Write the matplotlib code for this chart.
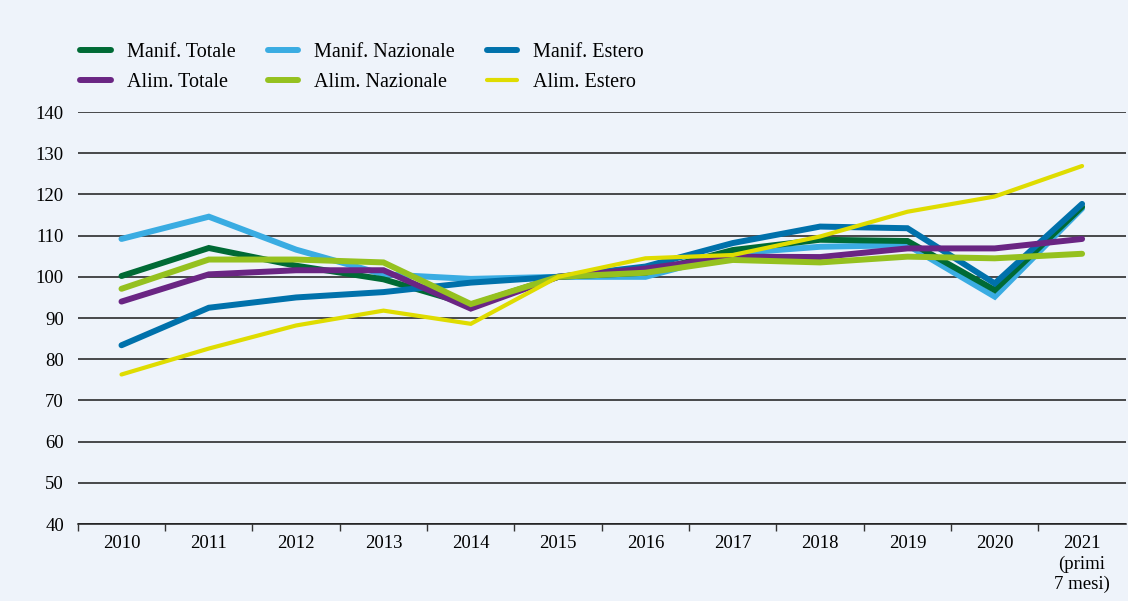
import matplotlib
matplotlib.use("Agg")
import matplotlib.pyplot as plt
import numpy as np

years = ["2010", "2011", "2012", "2013", "2014", "2015", "2016", "2017", "2018", "2019", "2020",
         "2021\n(primi\n7 mesi)"]

manif_nazionale = [109.2, 114.6, 106.6, 100.6, 99.5, 100.0, 100.0, 105.7, 107.3, 107.7, 95.2, 116.6]
manif_totale = [100.2, 107.0, 102.7, 99.4, 93.2, 100.0, 101.0, 106.5, 109.0, 108.7, 96.8, 117.0]
manif_estero = [83.4, 92.5, 95.0, 96.3, 98.6, 100.0, 102.5, 108.2, 112.2, 111.8, 98.4, 117.7]
alim_totale = [94.0, 100.6, 101.6, 101.6, 92.3, 100.0, 102.0, 104.9, 104.8, 106.9, 106.9, 109.2]
alim_nazionale = [97.1, 104.2, 104.2, 103.5, 93.4, 100.0, 101.0, 104.1, 103.5, 104.9, 104.5, 105.6]
alim_estero = [76.3, 82.6, 88.2, 91.8, 88.6, 100.0, 104.5, 105.3, 109.8, 115.8, 119.5, 126.9]

BG = "#eef3fa"
plt.rcParams["font.family"] = ["Liberation Serif", "DejaVu Serif"]

fig = plt.figure(figsize=(11.28, 6.01), dpi=100, facecolor=BG)
ax = fig.add_axes([0.069, 0.128, 0.929, 0.6856], facecolor=BG)

x = np.arange(len(years))
# drawing order bottom -> top
series = {
    "Manif. Nazionale": (manif_nazionale, "#3aace2", 4.3, 2),
    "Manif. Totale": (manif_totale, "#006a35", 4.3, 3),
    "Manif. Estero": (manif_estero, "#0071ab", 4.3, 4),
    "Alim. Totale": (alim_totale, "#6a2583", 4.3, 5),
    "Alim. Nazionale": (alim_nazionale, "#95c11f", 4.3, 6),
    "Alim. Estero": (alim_estero, "#dfdc00", 3.0, 7),
}
handles = {}
for name, (vals, color, lw, z) in series.items():
    (line,) = ax.plot(x, vals, color=color, lw=lw, zorder=z,
                      solid_capstyle="round", solid_joinstyle="miter", label=name)
    handles[name] = line

ax.set_xlim(-0.5, len(years) - 0.5)
ax.set_ylim(40, 140)
ax.set_yticks(np.arange(40, 141, 10))
ax.set_xticks(x)
ax.set_xticklabels(years, linespacing=1.25)
ax.set_xticks(np.arange(-0.5, len(years) - 0.5, 1), minor=True)
ax.tick_params(axis="x", which="major", length=0, pad=8, labelsize=13.5)
ax.tick_params(axis="x", which="minor", length=5, width=1, color="#333333", direction="out")
ax.tick_params(axis="y", length=0, pad=10, labelsize=13.5)
ax.yaxis.grid(True, color="#1a1a1a", lw=1.1)
ax.set_axisbelow(True)
for side in ("left", "top", "right"):
    ax.spines[side].set_visible(False)
ax.spines["bottom"].set_color("#1a1a1a")
ax.spines["bottom"].set_linewidth(1.1)

# legend fills column by column, so list Manif/Alim pairs per column
col_order = ["Manif. Totale", "Alim. Totale", "Manif. Nazionale", "Alim. Nazionale",
             "Manif. Estero", "Alim. Estero"]
fig.legend([handles[n] for n in col_order], col_order, ncol=3, loc="upper left",
           bbox_to_anchor=(0.057, 0.955), frameon=False, fontsize=14.5,
           handlelength=1.5, handletextpad=0.8, columnspacing=1.6,
           labelspacing=0.55, borderpad=0.3)

fig.savefig("out.png", dpi=100, facecolor=BG)
